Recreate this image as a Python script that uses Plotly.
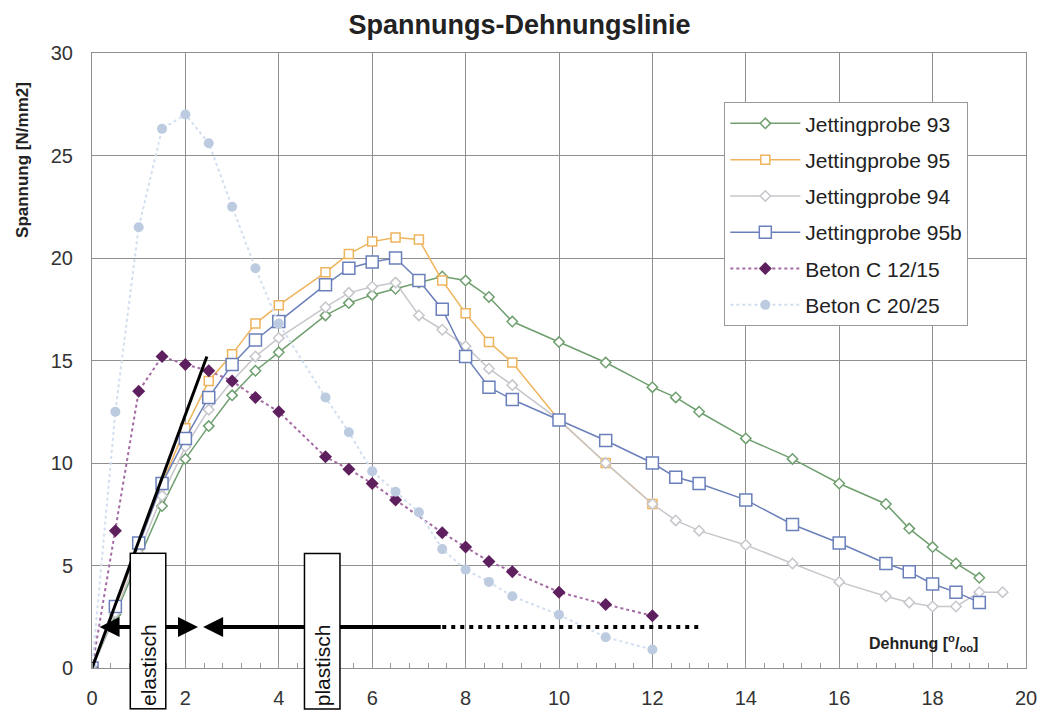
import plotly.graph_objects as go

# ---------------- data ----------------
x_93 = [0, 0.5, 1, 1.5, 2, 2.5, 3, 3.5, 4, 5, 5.5, 6, 6.5, 7, 7.5, 8, 8.5, 9, 10, 11, 12, 12.5, 13, 14, 15, 16, 17, 17.5, 18, 18.5, 19]
y_93 = [0, 2.6, 5.3, 7.9, 10.2, 11.8, 13.3, 14.5, 15.4, 17.2, 17.8, 18.2, 18.5, 18.8, 19.1, 18.9, 18.1, 16.9, 15.9, 14.9, 13.7, 13.2, 12.5, 11.2, 10.2, 9.0, 8.0, 6.8, 5.9, 5.1, 4.4]

x_95 = [0, 0.5, 1, 1.5, 2, 2.5, 3, 3.5, 4, 5, 5.5, 6, 6.5, 7, 7.5, 8, 8.5, 9, 10, 11, 12]
y_95 = [0, 2.9, 6.0, 9.0, 11.7, 14.0, 15.3, 16.8, 17.7, 19.3, 20.2, 20.8, 21.0, 20.9, 18.9, 17.3, 15.9, 14.9, 12.1, 10.0, 8.0]

x_94 = [0, 0.5, 1, 1.5, 2, 2.5, 3, 3.5, 4, 5, 5.5, 6, 6.5, 7, 7.5, 8, 8.5, 9, 10, 11, 12, 12.5, 13, 14, 15, 16, 17, 17.5, 18, 18.5, 19, 19.5]
y_94 = [0, 2.7, 5.6, 8.4, 10.8, 12.6, 14.0, 15.2, 16.1, 17.6, 18.3, 18.6, 18.8, 17.2, 16.5, 15.7, 14.6, 13.8, 12.1, 10.0, 8.0, 7.2, 6.7, 6.0, 5.1, 4.2, 3.5, 3.2, 3.0, 3.0, 3.7, 3.7]

x_95b = [0, 0.5, 1, 1.5, 2, 2.5, 3, 3.5, 4, 5, 5.5, 6, 6.5, 7, 7.5, 8, 8.5, 9, 10, 11, 12, 12.5, 13, 14, 15, 16, 17, 17.5, 18, 18.5, 19]
y_95b = [0, 3.0, 6.1, 9.0, 11.2, 13.2, 14.8, 16.0, 16.9, 18.7, 19.5, 19.8, 20.0, 18.9, 17.5, 15.2, 13.7, 13.1, 12.1, 11.1, 10.0, 9.3, 9.0, 8.2, 7.0, 6.1, 5.1, 4.7, 4.1, 3.7, 3.2]

x_c12 = [0, 0.5, 1, 1.5, 2, 2.5, 3, 3.5, 4, 5, 5.5, 6, 6.5, 7.5, 8, 8.5, 9, 10, 11, 12]
y_c12 = [0, 6.7, 13.5, 15.2, 14.8, 14.5, 14.0, 13.2, 12.5, 10.3, 9.7, 9.0, 8.2, 6.6, 5.9, 5.2, 4.7, 3.7, 3.1, 2.55]

x_c20 = [0, 0.5, 1, 1.5, 2, 2.5, 3, 3.5, 4, 5, 5.5, 6, 6.5, 7, 7.5, 8, 8.5, 9, 10, 11, 12]
y_c20 = [0, 12.5, 21.5, 26.3, 27.0, 25.6, 22.5, 19.5, 16.8, 13.2, 11.5, 9.6, 8.6, 7.6, 5.8, 4.8, 4.2, 3.5, 2.6, 1.5, 0.9]

# elastic line (tangent) and phase arrows
tangent_x = [0, 2.46]
tangent_y = [0, 15.2]
arrow_y = 2.0
elastic_arrow = [0.13, 2.27]
plastic_arrow = [2.38, 7.5]
plastic_dotted = [7.5, 13.0]
box_labels = ["elastisch", "plastisch"]
box_x = [1.2, 4.93]
box_y = 1.78

x_ticks = [0, 2, 4, 6, 8, 10, 12, 14, 16, 18, 20]
y_ticks = [0, 5, 10, 15, 20, 25, 30]

FONT = "Liberation Sans, Arial, sans-serif"

fig = go.Figure()

def add_series(x, y, name, color, symbol, msize, dash="solid", lw=1.5):
    fig.add_trace(go.Scatter(
        x=x, y=y, name=name, mode="lines+markers", legendgroup=name,
        line=dict(color=color, width=lw, dash=dash),
        marker=dict(symbol=symbol, size=msize, color="white",
                    line=dict(color=color, width=1.5)),
    ))

add_series(x_93, y_93, "Jettingprobe 93", "#6f9f6f", "diamond", 8)
add_series(x_95, y_95, "Jettingprobe 95", "#eeb45c", "square", 9)
add_series(x_94, y_94, "Jettingprobe 94", "#c6c6cc", "diamond", 8)
add_series(x_95b, y_95b, "Jettingprobe 95b", "#6b80bb", "square", 12)
fig.add_trace(go.Scatter(
    x=x_c12, y=y_c12, name="Beton C 12/15", mode="lines+markers",
    legendgroup="c12",
    line=dict(color="#a46aa4", width=2, dash="dot"),
    marker=dict(symbol="diamond", size=10, color="#5e1f5e",
                line=dict(color="#5e1f5e", width=0)),
))
fig.add_trace(go.Scatter(
    x=x_c20, y=y_c20, name="Beton C 20/25", mode="lines+markers",
    legendgroup="c20",
    line=dict(color="#d2dff0", width=2, dash="dot"),
    marker=dict(symbol="circle", size=10, color="#bccbe0",
                line=dict(color="#bccbe0", width=0)),
))

# tangent line
fig.add_trace(go.Scatter(
    x=tangent_x, y=tangent_y, mode="lines", showlegend=False,
    line=dict(color="black", width=3), hoverinfo="skip",
))
# dotted continuation of plastic arrow
fig.add_trace(go.Scatter(
    x=plastic_dotted, y=[arrow_y, arrow_y], mode="lines", showlegend=False,
    line=dict(color="black", width=4, dash="4px,5px"), hoverinfo="skip",
))

annotations = []
annotations.append(dict(
    x=elastic_arrow[1], y=arrow_y, ax=elastic_arrow[0], ay=arrow_y,
    xref="x", yref="y", axref="x", ayref="y", text="",
    showarrow=True, arrowhead=2, startarrowhead=2, arrowside="end+start",
    arrowwidth=4, arrowsize=1.0, startarrowsize=1.0, arrowcolor="black",
    standoff=0, startstandoff=0,
))
annotations.append(dict(
    x=plastic_arrow[0], y=arrow_y, ax=plastic_arrow[1], ay=arrow_y,
    xref="x", yref="y", axref="x", ayref="y", text="",
    showarrow=True, arrowhead=2, arrowwidth=4, arrowsize=1.0,
    arrowcolor="black", standoff=0,
))
for lab, bx in zip(box_labels, box_x):
    annotations.append(dict(
        x=bx, y=box_y, xref="x", yref="y", text=lab, showarrow=False,
        textangle=-90, width=150, height=30, align="left",
        bgcolor="white", bordercolor="black", borderwidth=1.5, borderpad=2,
        font=dict(family=FONT, size=21, color="#111"),
        xanchor="center", yanchor="middle",
    ))
annotations.append(dict(
    x=17.8, y=1.2, xref="x", yref="y",
    text="<b>Dehnung [<sup>o</sup>/<sub>oo</sub>]</b>", showarrow=False,
    font=dict(family=FONT, size=16, color="#222"),
    xanchor="center", yanchor="middle",
))
annotations.append(dict(
    x=-0.075, y=0.826, xref="paper", yref="paper",
    text="<b>Spannung [N/mm2]</b>", showarrow=False, textangle=-90,
    font=dict(family=FONT, size=17, color="#222"),
    xanchor="center", yanchor="middle",
))

fig.update_layout(
    width=1041, height=713,
    margin=dict(l=92, r=15, t=53, b=45, autoexpand=False),
    paper_bgcolor="white", plot_bgcolor="white",
    font=dict(family=FONT, color="#333"),
    title=dict(text="<b>Spannungs-Dehnungslinie</b>", x=0.499, xref="container",
               y=0.965, yref="container", xanchor="center", yanchor="middle",
               font=dict(family=FONT, size=27, color="#222")),
    legend=dict(x=0.677, y=0.92, xanchor="left", yanchor="top",
                bgcolor="white", bordercolor="#999", borderwidth=1,
                font=dict(family=FONT, size=21, color="#222"),
                itemwidth=70, tracegroupgap=6),
    annotations=annotations,
    showlegend=True,
)
fig.update_xaxes(
    range=[0, 20], tickvals=x_ticks, showgrid=True, gridcolor="#8f8f8f", gridwidth=1,
    showline=True, linecolor="#8f8f8f", mirror=True, zeroline=False,
    tickfont=dict(family=FONT, size=20, color="#333"), ticks="",
    ticklabelstandoff=12, automargin=False,
    minor=dict(dtick=0.4, ticks="inside", ticklen=5, tickcolor="#999", showgrid=False),
)
fig.update_yaxes(
    range=[0, 30], tickvals=y_ticks, showgrid=True, gridcolor="#8f8f8f", gridwidth=1,
    showline=True, linecolor="#8f8f8f", mirror=True, zeroline=False,
    tickfont=dict(family=FONT, size=20, color="#333"), ticks="",
    ticklabelstandoff=14, automargin=False,
)

fig.write_html("out.html", config={"displayModeBar": False},
               post_script="document.body.style.margin='0';document.body.style.overflow='hidden';")
